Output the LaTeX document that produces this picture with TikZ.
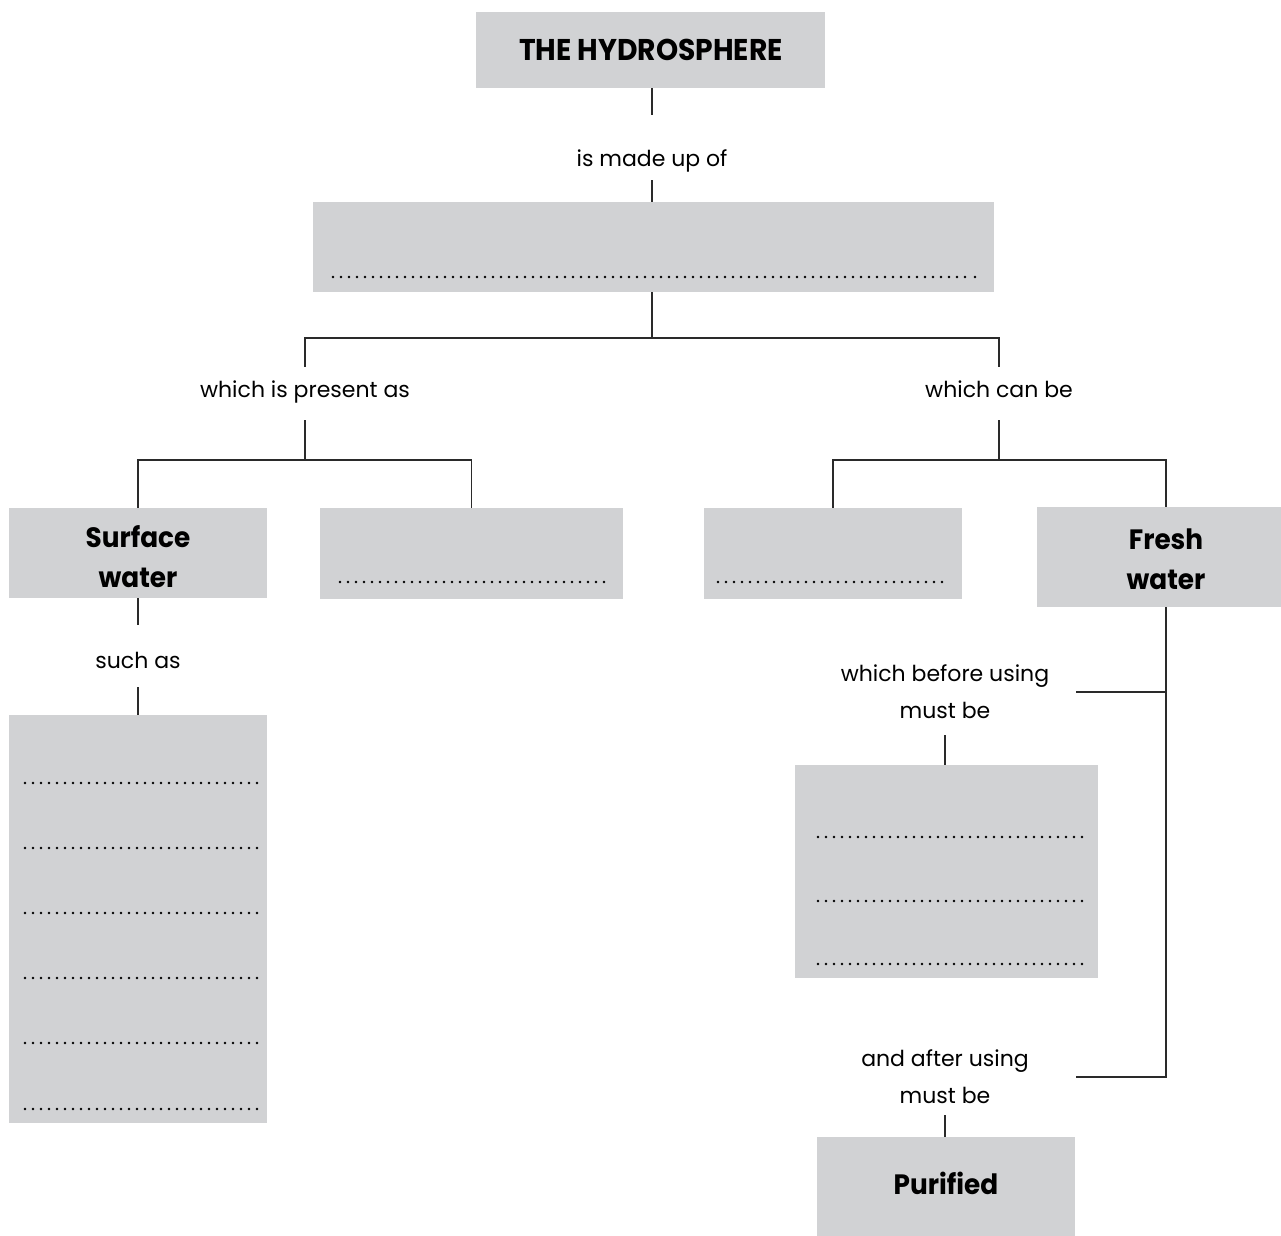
\documentclass[tikz,border=0pt]{standalone}
\usepackage{fontspec}
\setmainfont{Poppins}
\newfontfamily\hbf[FakeStretch=0.94]{Poppins}
\usetikzlibrary{fit}
\definecolor{boxgray}{HTML}{D1D2D4}
\definecolor{linec}{HTML}{2A2A2A}
\begin{document}
\begin{tikzpicture}[x=0.5pt,y=-0.5pt,
  box/.style={fill=boxgray, draw=none, inner sep=0pt},
  conn/.style={draw=linec, line width=0.75pt},
  dotline/.style={line width=1.4pt, line cap=round, dash pattern=on 0pt off 4pt},
  lbl/.style={inner sep=0pt, anchor=base, font=\fontsize{11}{13}\selectfont},
  lbltwo/.style={inner sep=0pt, align=center, minimum width=131pt, font=\fontsize{11}{18.5}\selectfont},
  ttl/.style={inner sep=0pt, align=center, font=\hbf\bfseries\fontsize{14}{20}\selectfont}]
\useasboundingbox (0,0) rectangle (1281,1236);

% boxes
\node[box, fit={(476,12) (825,88)}] (top) {};
\node[box, fit={(313,202) (994,292)}] (comp) {};
\node[box, fit={(9,508) (267,598)}] (surf) {};
\node[box, fit={(320,508) (623,599)}] (blankA) {};
\node[box, fit={(704,508) (962,599)}] (blankB) {};
\node[box, fit={(1037,507) (1295,607)}] (fresh) {};
\node[box, fit={(9,715) (267,1123)}] (list) {};
\node[box, fit={(795,765) (1098,978)}] (must) {};
\node[box, fit={(817,1137) (1075,1240)}] (pur) {};

% box texts
\node[ttl, font=\hbf\bfseries\fontsize{15}{20}\selectfont] (ttop) at (651,50) {THE HYDROSPHERE};
\node[ttl] (tsurf) at (138,557) {Surface\\water};
\node[ttl] (tfresh) at (1166,559) {Fresh\\water};
\node[ttl] (tpur) at (946,1183) {Purified};

% labels
\node[lbl, text height=26pt, text depth=6.5pt] (made) at (652,167) {is made up of};
\node[lbl, text height=15pt, text depth=11.5pt] (present) at (305,397) {which is present as};
\node[lbl, text height=15pt, text depth=11.5pt] (canbe) at (999,397) {which can be};
\node[lbl, text height=21.5pt, text depth=9.5pt] (such) at (138,668) {such as};
\node[lbltwo, minimum height=43pt] (before) at (945,692) {which before using\\must be};
\node[lbltwo, minimum height=38pt] (after) at (945,1077) {and after using\\must be};

% hubs
\coordinate (hub) at (652,338);
\coordinate (hubL) at (305,460);
\coordinate (hubR) at (999,460);

% connectors
\draw[conn] (top.south -| made.north) -- (made.north);
\draw[conn] (made.south) -- (made.south |- comp.north);
\draw[conn] (comp.south -| hub) -- (hub);
\draw[conn] (present.north) |- (hub) -| (canbe.north);
\draw[conn] (present.south) -- (hubL);
\draw[conn] (surf.north) |- (hubL) -| (blankA.north);
\draw[conn] (canbe.south) -- (hubR);
\draw[conn] (blankB.north) |- (hubR) -| (fresh.north);
\draw[conn] (surf.south) -- (such.north);
\draw[conn] (such.south) -- (such.south |- list.north);
\draw[conn] (fresh.south) -- (fresh.south |- after.east) -- (after.east);
\draw[conn] (before.east) -- (before.east -| fresh.south);
\draw[conn] (before.south) -- (before.south |- must.north);
\draw[conn] (after.south) -- (after.south |- pur.north);

% dotted blanks
\draw[dotline] (333,277) -- (966,277);
\fill (975,277) circle (0.7pt);
\draw[dotline] (340,582) -- (604,582);
\draw[dotline] (718,582) -- (949,582);
\foreach \yy in {783,848,913,978,1043,1109} {\draw[dotline] (25,\yy) -- (260,\yy);}
\foreach \yy in {837,901,964} {\draw[dotline] (818,\yy) -- (1084,\yy);}
\end{tikzpicture}
\end{document}
